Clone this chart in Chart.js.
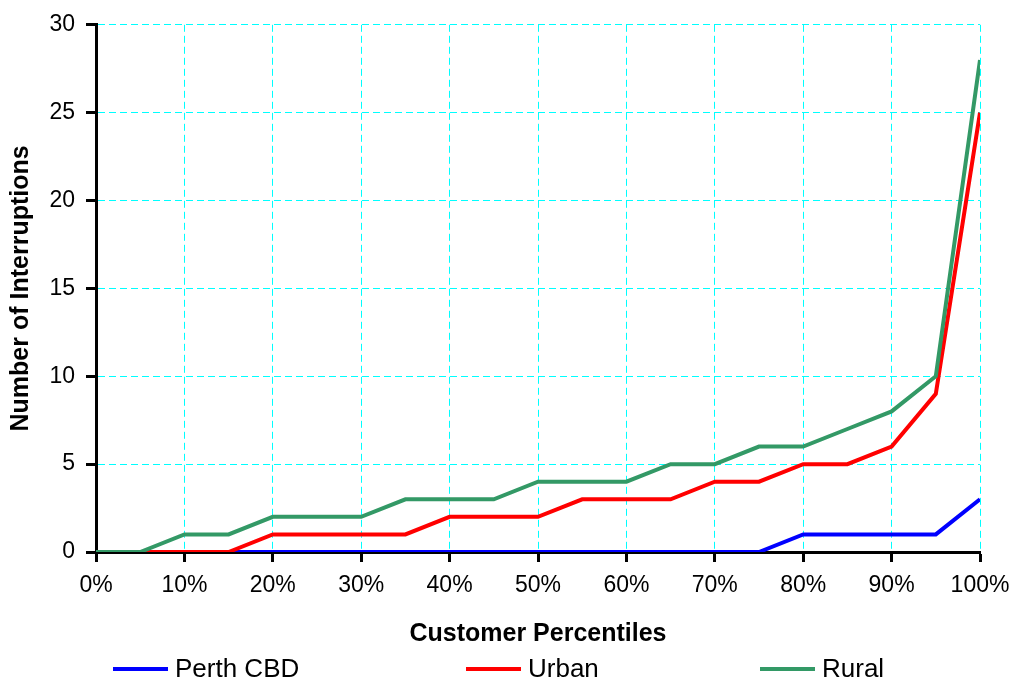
<!DOCTYPE html>
<html>
<head>
<meta charset="utf-8">
<script src="https://cdn.jsdelivr.net/npm/chart.js@4/dist/chart.umd.min.js"></script>
<style>
  html, body { margin: 0; padding: 0; background: #fff; }
  #wrap { width: 1014px; height: 684px; position: relative; }
</style>
</head>
<body>
<div id="wrap"><canvas id="chart" width="1014" height="684"></canvas></div>
<script>
// Customer percentile positions (%)
const percentiles = [0, 5, 10, 15, 20, 25, 30, 35, 40, 45, 50, 55, 60, 65, 70, 75, 80, 85, 90, 95, 100];

// Number of interruptions per percentile
const perthCBD = [0, 0, 0, 0, 0, 0, 0, 0, 0, 0, 0, 0, 0, 0, 0, 0, 1, 1, 1, 1, 3];
const urban    = [0, 0, 0, 0, 1, 1, 1, 1, 2, 2, 2, 3, 3, 3, 4, 4, 5, 5, 6, 9, 25];
const rural    = [0, 0, 1, 1, 2, 2, 2, 3, 3, 3, 4, 4, 4, 5, 5, 6, 6, 7, 8, 10, 28];

const seriesNames = ['Perth CBD', 'Urban', 'Rural'];
const seriesColors = ['#0000FF', '#FF0000', '#339966'];

const yTicks = { min: 0, max: 30, step: 5 };
const xTicks = { min: 0, max: 100, step: 10 };

const FONT = "'Liberation Sans', Arial, sans-serif";
const GRID = '#00FFFF';

function toPoints(values) {
  return percentiles.map((p, i) => ({ x: p, y: values[i] }));
}

// Legend drawn along the bottom edge, one slot per series
const legendSlots = [113, 466, 760];
const bottomLegend = {
  id: 'bottomLegend',
  afterDraw(chart) {
    const ctx = chart.ctx;
    const y = 669;
    ctx.save();
    ctx.font = '26px ' + FONT;
    ctx.textBaseline = 'middle';
    ctx.textAlign = 'left';
    chart.data.datasets.forEach((ds, i) => {
      const x = legendSlots[i];
      ctx.strokeStyle = ds.borderColor;
      ctx.lineWidth = 4;
      ctx.beginPath();
      ctx.moveTo(x, y);
      ctx.lineTo(x + 55, y);
      ctx.stroke();
      ctx.fillStyle = '#000';
      ctx.fillText(ds.label, x + 62, y + 1);
    });
    ctx.restore();
  }
};

const datasets = [perthCBD, urban, rural].map((vals, i) => ({
  label: seriesNames[i],
  data: toPoints(vals),
  borderColor: seriesColors[i],
  backgroundColor: seriesColors[i],
  borderWidth: 4,
  pointRadius: 0,
  pointHoverRadius: 0,
  tension: 0,
  fill: false,
  order: 3 - i
}));

function gridOpts() {
  return {
    color: GRID,
    lineWidth: 1,
    drawTicks: true,
    tickLength: 10,
    tickColor: '#000',
    tickWidth: 3,
    tickBorderDash: []
  };
}

new Chart(document.getElementById('chart'), {
  type: 'line',
  data: { datasets },
  options: {
    responsive: false,
    animation: false,
    events: [],
    layout: { padding: { top: 22, right: 34, bottom: 0, left: 0 } },
    plugins: {
      legend: { display: false },
      tooltip: { enabled: false }
    },
    scales: {
      x: {
        type: 'linear',
        min: xTicks.min,
        max: xTicks.max,
        afterFit(scale) { scale.height = 132; scale.paddingRight = 0; scale.paddingLeft = 0; },
        ticks: {
          stepSize: xTicks.step,
          color: '#000',
          font: { family: FONT, size: 23 },
          padding: 10,
          maxRotation: 0,
          callback: v => v + '%'
        },
        grid: gridOpts(),
        border: { display: true, color: '#000', width: 3, dash: [7, 4] },
        title: {
          display: true,
          text: 'Customer Percentiles',
          color: '#000',
          font: { family: FONT, size: 25, weight: 'bold' },
          padding: { top: 0, bottom: 35 }
        }
      },
      y: {
        type: 'linear',
        min: yTicks.min,
        max: yTicks.max,
        afterFit(scale) { scale.width = 96; },
        ticks: {
          stepSize: yTicks.step,
          color: '#000',
          font: { family: FONT, size: 23 },
          padding: 11
        },
        grid: gridOpts(),
        border: { display: true, color: '#000', width: 3, dash: [7, 4] },
        title: {
          display: true,
          text: 'Number of Interruptions',
          color: '#000',
          font: { family: FONT, size: 25, weight: 'bold' },
          padding: { top: 6, bottom: 0 }
        }
      }
    }
  },
  plugins: [bottomLegend]
});
</script>
</body>
</html>
